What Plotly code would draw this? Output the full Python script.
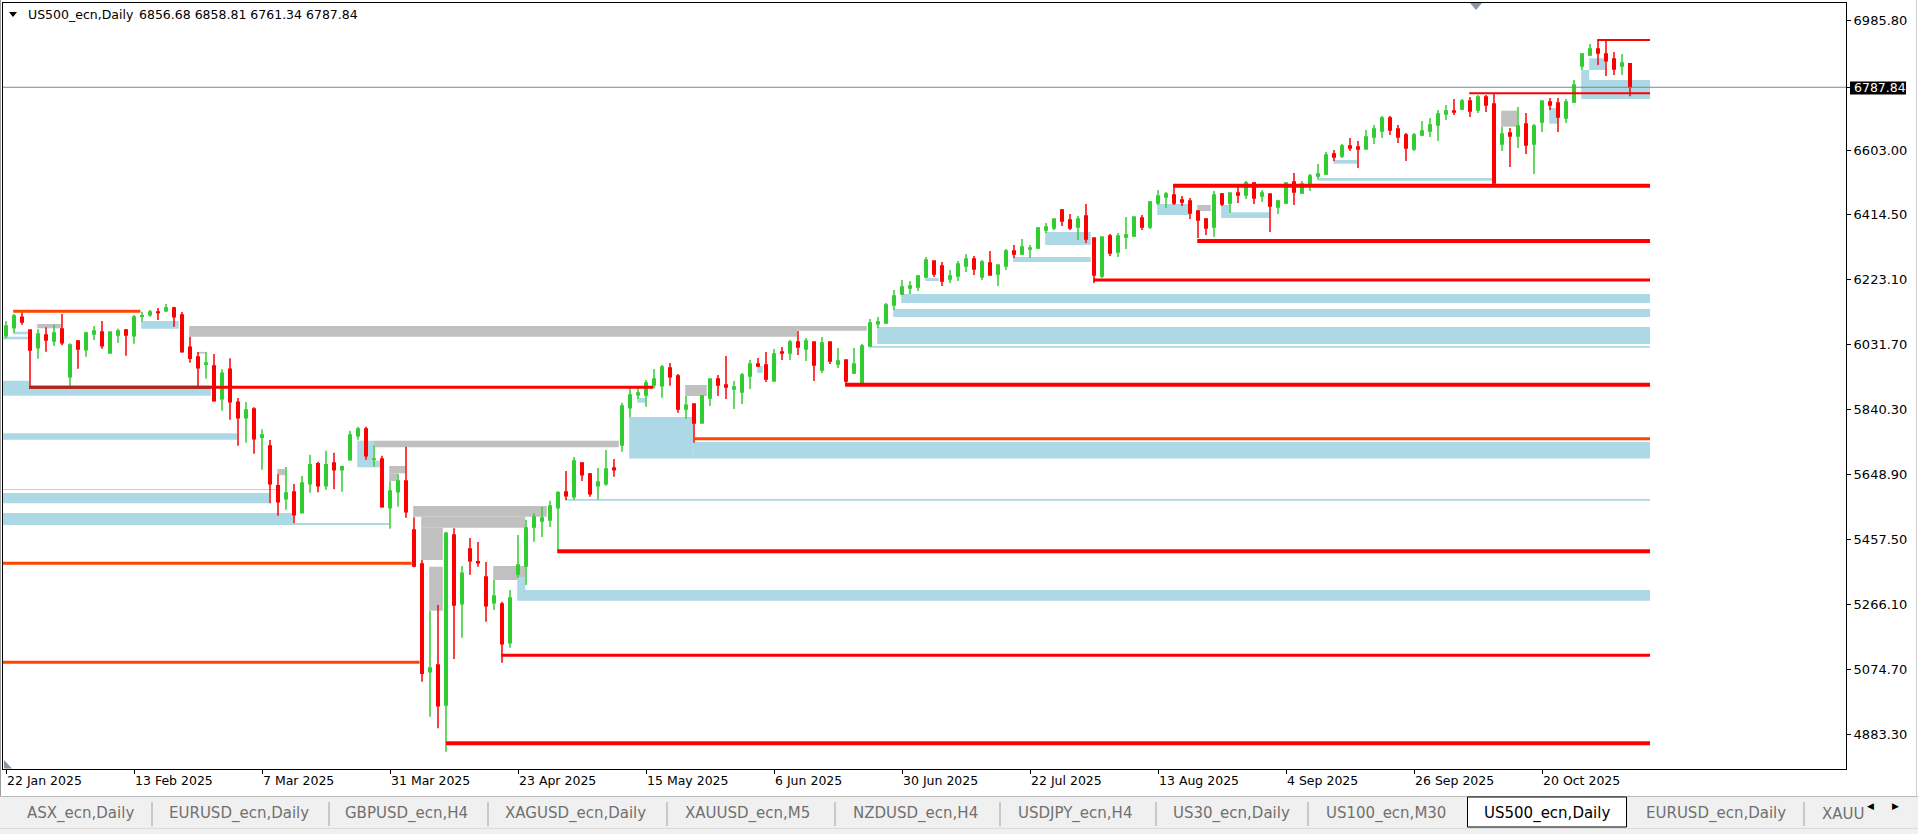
import plotly.graph_objects as go
import pandas as pd

# ------------------------------------------------------------------ data
symbol = "US500_ecn,Daily"
header_ohlc = ["6856.68", "6858.81", "6761.34", "6787.84"]
last_price = 6787.84

open_ = [6056.7, 6080.2, 6110.7, 6073.4, 6021.4, 6058.7, 6041.0, 6076.3, 5936.0, 6041.0,
         6015.5, 6061.6, 6067.5, 6005.7, 6058.6, 6073.4, 6056.7, 6113.6, 6118.5, 6126.3,
         6130.3, 6138.1, 6117.5, 6022.4, 5993.9, 5972.3, 5967.4, 5871.3, 5957.6, 5860.5,
         5815.4, 5840.8, 5757.4, 5731.9, 5615.2, 5577.0, 5596.6, 5535.7, 5621.1, 5679.9,
         5615.2, 5681.9, 5662.3, 5691.7, 5762.4, 5782.0, 5692.7, 5693.7, 5550.4, 5597.5,
         5628.9, 5484.7, 5384.6, 5067.7, 5087.3, 4969.6, 5469.9, 5267.8, 5428.8, 5391.5,
         5346.3, 5270.8, 5266.9, 5153.1, 5355.2, 5378.7, 5493.5, 5511.2, 5514.1, 5550.4,
         5596.5, 5582.8, 5681.9, 5649.5, 5615.2, 5621.0, 5667.2, 5734.8, 5844.7, 5883.0,
         5882.0, 5911.4, 5909.4, 5961.5, 5937.9, 5840.8, 5855.5, 5799.6, 5873.2, 5929.0,
         5911.4, 5899.6, 5890.8, 5937.9, 5973.3, 5970.3, 5923.2, 6008.5, 6005.6, 6038.0,
         6017.4, 6038.0, 5955.6, 6038.0, 5973.3, 5985.0, 5946.7, 5915.3, 6026.2, 6091.9,
         6093.9, 6147.0, 6179.4, 6197.0, 6200.0, 6229.4, 6276.5, 6261.8, 6223.5, 6232.3,
         6261.8, 6282.4, 6229.4, 6270.6, 6238.2, 6261.8, 6305.9, 6297.1, 6311.8, 6314.7,
         6367.7, 6373.6, 6426.6, 6397.2, 6376.6, 6408.9, 6344.2, 6232.3, 6350.1, 6303.0,
         6347.1, 6350.1, 6403.0, 6376.6, 6447.2, 6464.9, 6470.7, 6456.0, 6453.1, 6423.7,
         6400.1, 6376.6, 6473.7, 6447.2, 6476.6, 6470.7, 6506.1, 6467.8, 6473.7, 6435.4,
         6447.2, 6509.0, 6476.6, 6500.2, 6526.6, 6532.5, 6591.4, 6585.5, 6614.9, 6612.0,
         6606.1, 6641.5, 6659.1, 6697.4, 6665.0, 6647.3, 6606.1, 6647.3, 6659.1, 6676.8,
         6709.2, 6718.0, 6723.9, 6747.4, 6720.9, 6759.2, 6738.6, 6620.9, 6653.2, 6644.4,
         6679.7, 6620.9, 6685.6, 6744.5, 6741.5, 6697.4, 6744.5, 6850.4, 6882.8, 6900.4,
         6885.7, 6871.0, 6850.4, 6856.68]
high = [6099.9, 6120.5, 6128.3, 6073.4, 6075.3, 6081.2, 6089.1, 6120.5, 6034.1, 6043.9,
        6068.4, 6085.1, 6099.9, 6068.0, 6077.3, 6076.3, 6117.5, 6127.3, 6132.2, 6138.1,
        6149.9, 6142.0, 6126.3, 6053.7, 6008.6, 6008.6, 6002.7, 5957.6, 5990.0, 5873.2,
        5861.4, 5845.7, 5781.0, 5749.6, 5648.6, 5670.1, 5620.1, 5643.7, 5706.4, 5685.8,
        5718.2, 5712.3, 5674.1, 5777.1, 5788.8, 5788.8, 5733.0, 5703.5, 5627.9, 5650.5,
        5729.9, 5521.9, 5396.4, 5246.3, 5263.9, 5479.8, 5489.6, 5378.7, 5461.1, 5449.3,
        5390.5, 5337.5, 5273.7, 5308.1, 5469.9, 5514.1, 5533.7, 5552.4, 5571.0, 5599.5,
        5658.3, 5699.5, 5684.8, 5652.4, 5667.2, 5720.1, 5693.6, 5859.4, 5908.5, 5906.5,
        5926.1, 5958.5, 5970.3, 5976.2, 5943.8, 5879.0, 5857.5, 5882.0, 5929.0, 5940.9,
        5996.8, 5923.2, 5946.7, 5985.0, 5990.9, 6008.5, 6017.4, 6023.3, 6043.9, 6070.4,
        6049.8, 6038.0, 6052.7, 6038.0, 6020.3, 5985.0, 6020.3, 6032.1, 6105.7, 6111.6,
        6152.8, 6191.1, 6220.6, 6217.6, 6235.3, 6288.3, 6276.5, 6273.5, 6250.0, 6276.5,
        6297.1, 6291.2, 6279.4, 6305.9, 6264.7, 6311.8, 6323.6, 6341.2, 6323.6, 6376.6,
        6388.3, 6400.1, 6429.5, 6414.8, 6408.9, 6444.3, 6344.2, 6347.1, 6355.9, 6358.9,
        6406.0, 6406.0, 6411.9, 6453.1, 6485.5, 6479.6, 6503.1, 6467.8, 6461.9, 6423.7,
        6403.0, 6482.5, 6476.6, 6476.6, 6494.3, 6511.9, 6509.0, 6485.5, 6473.7, 6456.0,
        6509.0, 6535.5, 6512.0, 6532.5, 6562.0, 6597.3, 6603.2, 6620.8, 6638.5, 6629.7,
        6662.1, 6676.8, 6703.3, 6703.3, 6676.8, 6653.2, 6653.2, 6688.6, 6697.4, 6721.0,
        6735.7, 6753.3, 6753.3, 6759.2, 6765.1, 6765.1, 6768.0, 6670.9, 6668.0, 6729.8,
        6712.1, 6679.7, 6747.4, 6756.3, 6756.3, 6753.3, 6809.2, 6888.7, 6915.1, 6926.9,
        6924.0, 6891.6, 6885.7, 6858.81]
low = [6048.8, 6065.5, 6089.1, 5906.0, 5989.0, 6009.6, 6026.3, 6028.2, 5906.6, 5959.5,
       5994.9, 6043.9, 6018.4, 6003.7, 6035.1, 5997.8, 6033.1, 6097.9, 6112.6, 6102.8,
       6126.3, 6083.2, 6006.7, 5977.2, 5906.6, 5930.1, 5862.0, 5835.9, 5809.5, 5732.9,
       5741.8, 5709.4, 5662.3, 5563.2, 5526.9, 5544.5, 5504.3, 5533.8, 5594.6, 5595.6,
       5603.4, 5604.4, 5597.5, 5688.8, 5750.6, 5691.7, 5671.1, 5550.0, 5488.6, 5553.4,
       5521.0, 5374.8, 5038.3, 4935.2, 4900.9, 4832.2, 5105.0, 5167.8, 5353.2, 5376.7,
       5214.8, 5249.2, 5094.2, 5138.3, 5344.4, 5322.8, 5450.3, 5464.1, 5493.5, 5425.8,
       5573.0, 5573.0, 5628.9, 5582.8, 5573.9, 5615.2, 5641.6, 5715.2, 5816.2, 5870.2,
       5847.6, 5901.6, 5874.1, 5909.4, 5830.0, 5812.3, 5741.7, 5799.6, 5849.6, 5879.0,
       5870.2, 5840.8, 5855.5, 5899.6, 5964.4, 5920.2, 5923.2, 5985.0, 5985.0, 5999.7,
       5982.0, 5923.2, 5946.7, 5973.3, 5961.5, 5908.5, 5943.8, 5911.4, 6023.3, 6079.2,
       6091.0, 6132.3, 6176.4, 6179.4, 6188.2, 6226.5, 6229.4, 6202.9, 6211.7, 6217.6,
       6244.1, 6235.3, 6220.6, 6235.3, 6202.9, 6250.0, 6285.3, 6294.2, 6285.3, 6311.8,
       6358.9, 6367.7, 6379.5, 6367.7, 6338.3, 6329.5, 6211.7, 6226.5, 6291.2, 6288.3,
       6311.8, 6347.1, 6367.7, 6370.7, 6441.3, 6432.5, 6441.3, 6438.4, 6400.1, 6344.2,
       6353.0, 6347.1, 6438.4, 6417.8, 6447.2, 6459.0, 6444.3, 6450.1, 6361.8, 6414.8,
       6444.3, 6441.3, 6473.7, 6482.5, 6517.9, 6529.6, 6570.8, 6579.6, 6600.2, 6550.2,
       6606.1, 6620.8, 6638.5, 6647.3, 6623.8, 6570.8, 6600.2, 6644.4, 6641.5, 6629.7,
       6691.5, 6706.2, 6720.9, 6700.3, 6712.1, 6715.1, 6503.1, 6600.3, 6553.2, 6609.1,
       6591.4, 6532.6, 6656.2, 6720.9, 6656.2, 6682.7, 6741.5, 6838.6, 6879.8, 6853.3,
       6821.0, 6823.9, 6823.9, 6761.34]
close = [6085.1, 6114.6, 6096.9, 6014.5, 6061.6, 6043.9, 6064.5, 6036.1, 6029.2, 6017.4,
         6064.5, 6070.4, 6027.3, 6067.5, 6070.4, 6058.6, 6111.6, 6115.5, 6126.3, 6124.8,
         6138.1, 6112.6, 6009.6, 5990.0, 5962.5, 5976.2, 5865.4, 5945.8, 5862.4, 5815.4,
         5837.9, 5753.5, 5764.3, 5621.1, 5568.1, 5593.6, 5529.9, 5623.1, 5677.0, 5615.2,
         5677.0, 5662.3, 5671.1, 5764.3, 5782.0, 5703.5, 5693.6, 5553.4, 5599.5, 5628.9,
         5538.6, 5378.7, 5062.8, 5078.5, 4967.6, 5474.9, 5263.9, 5357.1, 5394.4, 5388.5,
         5261.9, 5290.4, 5150.1, 5284.5, 5381.6, 5490.5, 5522.9, 5520.0, 5555.3, 5594.5,
         5585.7, 5687.7, 5647.5, 5591.6, 5625.9, 5664.2, 5662.2, 5849.6, 5882.0, 5887.9,
         5917.3, 5929.0, 5964.4, 5935.9, 5840.8, 5851.6, 5799.6, 5879.0, 5929.0, 5911.4,
         5905.5, 5905.5, 5940.9, 5973.3, 5967.3, 5929.0, 6002.7, 6005.6, 6038.0, 6023.3,
         6040.9, 5970.3, 6035.0, 5982.0, 5982.0, 5923.2, 5973.3, 6026.2, 6093.9, 6096.9,
         6146.9, 6173.5, 6200.0, 6202.9, 6232.3, 6279.4, 6238.2, 6217.6, 6232.3, 6267.7,
         6282.4, 6253.0, 6273.5, 6235.3, 6264.7, 6305.9, 6297.1, 6317.7, 6314.7, 6373.6,
         6376.6, 6400.1, 6394.2, 6373.6, 6400.1, 6341.2, 6235.3, 6347.1, 6300.0, 6350.1,
         6353.0, 6406.0, 6376.6, 6450.1, 6467.8, 6473.7, 6447.2, 6450.1, 6417.8, 6397.2,
         6373.6, 6470.7, 6444.3, 6476.6, 6470.7, 6506.1, 6461.9, 6476.6, 6438.4, 6453.1,
         6506.1, 6479.6, 6503.1, 6526.6, 6532.5, 6588.5, 6582.6, 6614.9, 6609.1, 6606.1,
         6641.5, 6665.0, 6697.4, 6662.1, 6641.5, 6609.1, 6647.3, 6659.1, 6676.8, 6709.2,
         6718.0, 6715.1, 6747.4, 6718.0, 6759.2, 6735.7, 6506.1, 6650.3, 6644.4, 6673.8,
         6617.9, 6673.8, 6747.4, 6735.7, 6700.3, 6744.5, 6794.5, 6885.7, 6900.4, 6888.7,
         6866.1, 6841.6, 6859.2, 6787.84]

# trading days shown (weekdays, Good Friday closed)
closed_days = ["2025-04-18"]
dates = [d for d in pd.bdate_range("2025-01-22", "2025-11-04")
         if d.strftime("%Y-%m-%d") not in closed_days]

x_tick_labels = ["22 Jan 2025", "13 Feb 2025", "7 Mar 2025", "31 Mar 2025", "23 Apr 2025",
                 "15 May 2025", "6 Jun 2025", "30 Jun 2025", "22 Jul 2025", "13 Aug 2025",
                 "4 Sep 2025", "26 Sep 2025", "20 Oct 2025"]
y_tick_labels = ["6985.80", "6603.00", "6414.50", "6223.10", "6031.70", "5840.30",
                 "5648.90", "5457.50", "5266.10", "5074.70", "4883.30"]

# zones: (from bar, to bar, low price, high price)
supply_zones = [
    (22.9, 98.9, 6053.7, 6085.1), (98.9, 107.6, 6071.5, 6085.1), (3.9, 6.9, 6078.3, 6091.0),
    (23.9, 24.9, 6004.0, 6009.0), (45.9, 76.6, 5728.3, 5747.7), (33.9, 34.9, 5646.0, 5664.0),
    (47.9, 49.9, 5651.6, 5673.1), (47.9, 48.9, 5628.9, 5651.6), (50.9, 67.6, 5523.8, 5555.3),
    (51.9, 64.9, 5491.4, 5523.8), (51.9, 54.6, 5396.4, 5491.4), (52.9, 54.6, 5247.1, 5376.6),
    (60.9, 64.9, 5337.7, 5378.9), (84.9, 87.6, 5879.1, 5911.5), (148.9, 150.6, 6423.6, 6441.3),
    (186.9, 188.9, 6671.7, 6718.8),
]
demand_zones = [
    (0.9, 2.75, 6060.6, 6068.3), (-0.5, 2.75, 6045.9, 6053.6), (16.9, 21.6, 6077.2, 6099.9),
    (-0.5, 2.9, 5899.7, 5924.1), (-0.5, 25.6, 5880.0, 5904.0), (-0.5, 28.9, 5750.5, 5769.3),
    (-0.5, 33.9, 5602.4, 5605.4), (-0.5, 32.9, 5563.3, 5593.6), (-0.5, 35.9, 5499.4, 5534.7),
    (35.9, 47.9, 5499.4, 5505.3), (43.9, 45.9, 5669.1, 5747.7), (45.9, 46.9, 5669.1, 5689.0),
    (63.9, 205.5, 5276.6, 5308.1), (63.9, 64.9, 5308.1, 5347.0), (69.9, 205.5, 5570.9, 5575.9),
    (77.9, 85.9, 5694.8, 5817.3), (85.9, 205.5, 5694.8, 5743.7), (78.9, 79.9, 5859.3, 5873.2),
    (93.9, 94.6, 5946.8, 5967.4), (108.9, 205.5, 6032.2, 6082.2), (107.9, 205.5, 6021.3, 6026.3),
    (110.9, 205.5, 6111.6, 6135.1), (111.9, 205.5, 6152.8, 6179.3), (114.9, 116.6, 6217.6, 6226.4),
    (125.9, 135.6, 6273.5, 6288.2), (129.9, 135.6, 6323.6, 6361.8), (143.9, 147.9, 6411.8, 6444.2),
    (151.9, 152.9, 6403.0, 6441.3), (152.9, 157.9, 6403.0, 6420.3), (163.9, 186.0, 6512.8, 6520.7),
    (165.9, 168.9, 6562.8, 6573.7), (192.9, 194.0, 6680.6, 6726.8), (196.9, 205.5, 6753.3, 6809.2),
    (196.9, 197.9, 6809.2, 6838.6), (197.9, 199.9, 6838.6, 6873.1),
]
# levels: (from bar, to bar, price)
levels_major = [(145.9, 205.5, 6498.1), (148.9, 205.5, 6335.3), (104.9, 205.5, 5912.4),
                (68.9, 205.5, 5421.8), (55.0, 205.5, 4856.7)]
levels_medium = [(135.9, 205.5, 6220.5), (2.9, 80.9, 5904.7), (61.9, 205.5, 5115.8)]
levels_minor = [(198.9, 205.5, 6926.9), (182.9, 205.5, 6770.0)]
levels_orange = [(85.9, 205.5, 5753.0), (0.9, 16.8, 6128.4), (-0.5, 50.7, 5386.5),
                 (-0.5, 51.7, 5095.1)]
levels_overlap = [(2.9, 25.6, 5904.7)]

tab_labels = ["ASX_ecn,Daily", "EURUSD_ecn,Daily", "GBPUSD_ecn,H4", "XAGUSD_ecn,Daily",
              "XAUUSD_ecn,M5", "NZDUSD_ecn,H4", "USDJPY_ecn,H4", "US30_ecn,Daily",
              "US100_ecn,M30", "US500_ecn,Daily", "EURUSD_ecn,Daily", "XAUU"]
active_tab_index = 9

# ------------------------------------------------------------------ layout helpers
W, H = 1918, 834
ML, MR, MT, MB = 3, 72, 3, 65
PW, PH = W - ML - MR, H - MT - MB


def px(x):
    return (x - ML) / PW


def py(y):
    return (H - MB - y) / PH


FONT = "DejaVu Sans"
n = len(open_)
xs = list(range(n))
date_keys = [d.strftime("%Y-%m-%d") for d in dates]
x_tick_vals = [date_keys.index(pd.to_datetime(t, format="%d %b %Y").strftime("%Y-%m-%d"))
               for t in x_tick_labels]

fig = go.Figure()
fig.add_trace(go.Candlestick(
    x=xs, open=open_, high=high, low=low, close=close,
    increasing=dict(line=dict(color="#32CD32", width=1.5), fillcolor="#32CD32"),
    decreasing=dict(line=dict(color="#FF0000", width=1.5), fillcolor="#FF0000"),
    whiskerwidth=0, showlegend=False, hoverinfo="skip",
))

shapes = []
for x0, x1, p0, p1 in supply_zones:
    shapes.append(dict(type="rect", xref="x", yref="y", x0=x0, x1=x1, y0=p0, y1=p1,
                       fillcolor="#C0C0C0", line=dict(width=0), layer="below"))
for x0, x1, p0, p1 in demand_zones:
    shapes.append(dict(type="rect", xref="x", yref="y", x0=x0, x1=x1, y0=p0, y1=p1,
                       fillcolor="#ADD8E6", line=dict(width=0), layer="below"))


def add_levels(levels, color, width):
    for x0, x1, p in levels:
        shapes.append(dict(type="line", xref="x", yref="y", x0=x0, x1=x1, y0=p, y1=p,
                           line=dict(color=color, width=width), layer="above"))


add_levels(levels_major, "#FF0000", 4)
add_levels(levels_medium, "#FF0000", 3)
add_levels(levels_minor, "#FF0000", 2)
add_levels(levels_orange, "#FF4500", 3)
add_levels(levels_overlap, "#A8281E", 3)

# current price line
shapes.append(dict(type="line", xref="paper", yref="y", x0=0, x1=1, y0=last_price, y1=last_price,
                   line=dict(color="#7A8794", width=1), layer="above"))
# current price box on axis
shapes.append(dict(type="rect", xref="paper", yref="paper", x0=px(1850), x1=px(1906),
                   y0=py(94.5), y1=py(81.5), fillcolor="black", line=dict(width=0)))
# header triangle
shapes.append(dict(type="path", xref="paper", yref="paper",
                   path=f"M {px(9)},{py(12)} L {px(17)},{py(12)} L {px(13)},{py(17)} Z",
                   fillcolor="black", line=dict(width=0)))
# chart shift markers
shapes.append(dict(type="path", xref="paper", yref="paper",
                   path=f"M {px(1470)},{py(3)} L {px(1482)},{py(3)} L {px(1476)},{py(10)} Z",
                   fillcolor="#8A96A3", line=dict(width=0)))
shapes.append(dict(type="path", xref="paper", yref="paper",
                   path=f"M {px(4)},{py(760)} L {px(4)},{py(768.5)} L {px(12)},{py(768.5)} Z",
                   fillcolor="#8A96A3", line=dict(width=0)))
# window edges
shapes.append(dict(type="line", xref="paper", yref="paper", x0=px(0.5), x1=px(0.5),
                   y0=py(0), y1=py(797), line=dict(color="#A0A0A0", width=1)))
shapes.append(dict(type="line", xref="paper", yref="paper", x0=px(1916.5), x1=px(1916.5),
                   y0=py(0), y1=py(797), line=dict(color="#D0D0D0", width=1)))

# tab bar
shapes.append(dict(type="rect", xref="paper", yref="paper", x0=px(0), x1=px(W),
                   y0=py(834), y1=py(797), fillcolor="#F0F0F0", line=dict(width=0)))
shapes.append(dict(type="line", xref="paper", yref="paper", x0=px(0), x1=px(W),
                   y0=py(796.5), y1=py(796.5), line=dict(color="#B8B8B8", width=1)))
shapes.append(dict(type="line", xref="paper", yref="paper", x0=px(0), x1=px(W),
                   y0=py(828.5), y1=py(828.5), line=dict(color="#DCDCDC", width=1)))
tab_text_x = [24.5, 166.6, 343, 503, 683, 851, 1016, 1171, 1324, 1481.6, 1644, 1820]
tab_sep_x = [152, 329, 488, 667, 835, 1000, 1156, 1308, 1804]
for sx in tab_sep_x:
    shapes.append(dict(type="line", xref="paper", yref="paper", x0=px(sx), x1=px(sx),
                       y0=py(802), y1=py(826), line=dict(color="#A0A0A0", width=1)))
shapes.append(dict(type="rect", xref="paper", yref="paper", x0=px(1467.5), x1=px(1626.5),
                   y0=py(827), y1=py(797), fillcolor="white", line=dict(color="black", width=1)))

annotations = [
    dict(xref="paper", yref="paper", x=px(26), y=py(15), xanchor="left", yanchor="middle",
         text=symbol, showarrow=False, font=dict(family=FONT, size=12.5, color="black")),
    dict(xref="paper", yref="paper", x=px(137), y=py(15), xanchor="left", yanchor="middle",
         text=" ".join(header_ohlc), showarrow=False,
         font=dict(family=FONT, size=12.5, color="black")),
    dict(xref="paper", yref="y", x=px(1852), y=last_price, xanchor="left", yanchor="middle",
         text=f"{last_price:.2f}", showarrow=False,
         font=dict(family=FONT, size=12.5, color="white")),
]
for i, (lbl, tx) in enumerate(zip(tab_labels, tab_text_x)):
    annotations.append(dict(
        xref="paper", yref="paper", x=px(tx), y=py(814), xanchor="left", yanchor="middle",
        text=lbl, showarrow=False,
        font=dict(family=FONT, size=15, color="black" if i == active_tab_index else "#707070")))
annotations.append(dict(xref="paper", yref="paper", x=px(1876), y=py(813), text="◀",
                        showarrow=False, font=dict(family=FONT, size=9, color="black")))
annotations.append(dict(xref="paper", yref="paper", x=px(1901), y=py(813), text="▶",
                        showarrow=False, font=dict(family=FONT, size=9, color="black")))

fig.update_layout(
    width=W, height=H,
    margin=dict(l=ML, r=MR, t=MT, b=MB, autoexpand=False),
    paper_bgcolor="white", plot_bgcolor="white",
    boxgap=0.55,
    showlegend=False,
    hovermode=False,
    shapes=shapes,
    annotations=annotations,
    xaxis=dict(
        type="linear", range=[-0.375, 230], showgrid=False, zeroline=False,
        showline=True, mirror=True, linecolor="black", linewidth=1,
        ticks="outside", ticklen=4, tickcolor="black",
        tickvals=x_tick_vals, ticktext=x_tick_labels,
        ticklabelposition="outside right",
        tickfont=dict(family=FONT, size=12.5, color="black"),
        rangeslider=dict(visible=False), fixedrange=True,
    ),
    yaxis=dict(
        side="right", range=[4781.2, 7035.84], showgrid=False, zeroline=False,
        showline=True, mirror=True, linecolor="black", linewidth=1,
        ticks="outside", ticklen=4, tickcolor="black",
        tickvals=[float(t) for t in y_tick_labels] + [last_price],
        ticktext=y_tick_labels + [""],
        tickfont=dict(family=FONT, size=13, color="black"),
        fixedrange=True,
    ),
)

fig.write_html(
    "out.html",
    config={"displayModeBar": False},
    post_script="document.body.style.margin='0';document.body.style.overflow='hidden';",
)
